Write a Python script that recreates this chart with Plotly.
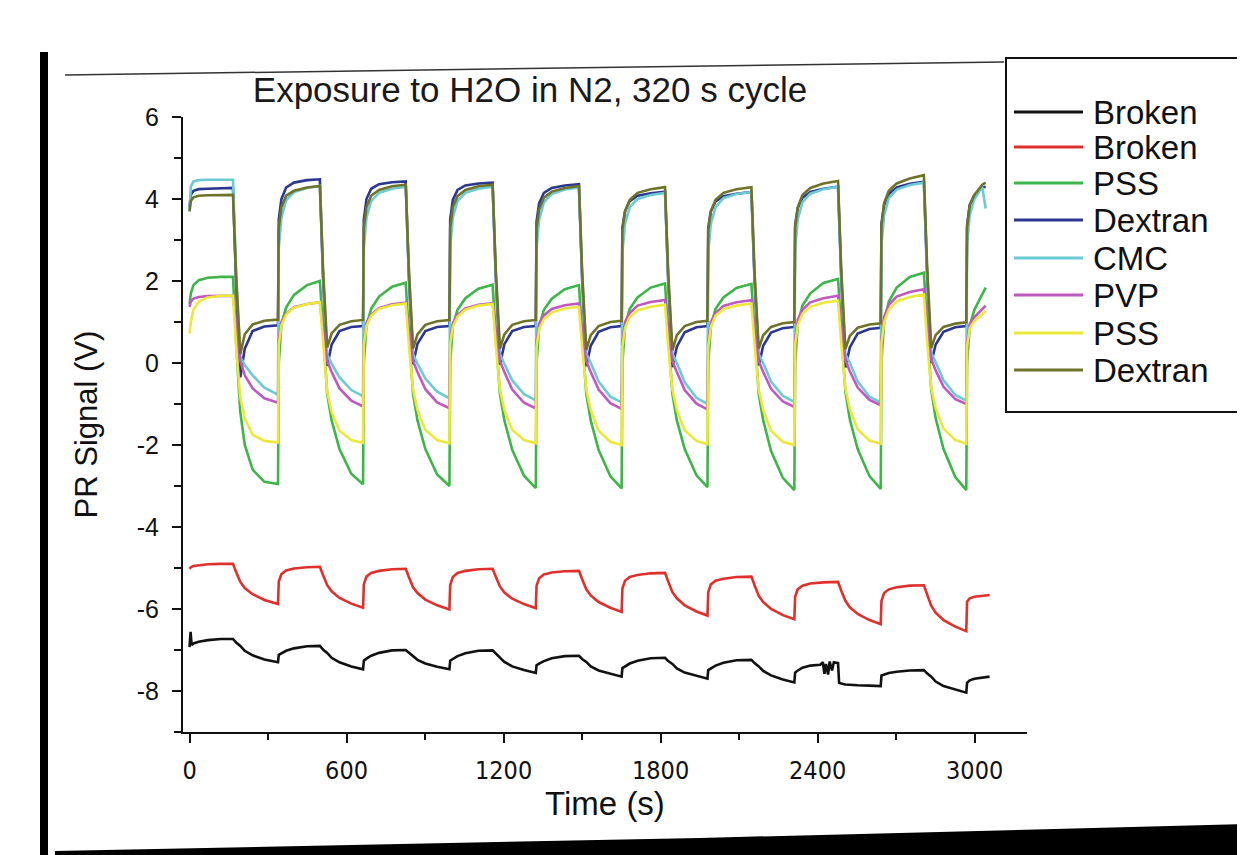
import plotly.graph_objects as go

# ---------------- data ----------------
# shared time samples (s) for the six coated sensors
time_s = [
    0, 5, 15, 35, 70, 120, 166,
    178, 194, 211, 241, 286, 338,
    341, 351, 369, 399, 449, 498,
    510, 526, 543, 573, 618, 663,
    666, 676, 694, 724, 774, 826,
    838, 854, 871, 901, 946, 993,
    996, 1006, 1024, 1054, 1104, 1158,
    1170, 1186, 1203, 1233, 1278, 1323,
    1326, 1336, 1354, 1384, 1434, 1488,
    1500, 1516, 1533, 1563, 1608, 1651,
    1654, 1664, 1682, 1712, 1762, 1817,
    1829, 1845, 1862, 1892, 1937, 1979,
    1982, 1992, 2010, 2040, 2090, 2147,
    2159, 2175, 2192, 2222, 2267, 2311,
    2314, 2324, 2342, 2372, 2422, 2478,
    2490, 2506, 2523, 2553, 2598, 2641,
    2644, 2654, 2672, 2702, 2752, 2806,
    2818, 2834, 2851, 2881, 2926, 2968,
    2971, 2981, 2999, 3029, 3042,
]

time_red = [
    0, 5, 15, 35, 70, 120, 166,
    178, 194, 211, 241, 286, 338,
    341, 351, 369, 399, 449, 498,
    510, 526, 543, 573, 618, 663,
    666, 676, 694, 724, 774, 826,
    838, 854, 871, 901, 946, 993,
    996, 1006, 1024, 1054, 1104, 1158,
    1170, 1186, 1203, 1233, 1278, 1323,
    1326, 1336, 1354, 1384, 1434, 1488,
    1500, 1516, 1533, 1563, 1608, 1651,
    1654, 1664, 1682, 1712, 1762, 1817,
    1829, 1845, 1862, 1892, 1937, 1979,
    1982, 1992, 2010, 2040, 2090, 2147,
    2159, 2175, 2192, 2222, 2267, 2311,
    2314, 2324, 2342, 2372, 2422, 2478,
    2490, 2506, 2523, 2553, 2598, 2641,
    2644, 2654, 2672, 2702, 2752, 2806,
    2818, 2834, 2851, 2881, 2926, 2968,
    2971, 2981, 2999, 3029, 3057,
]

time_black = [
    0, 4, 8, 15, 35, 70, 120, 166,
    178, 194, 211, 241, 286, 338,
    341, 351, 369, 399, 449, 498,
    510, 526, 543, 573, 618, 663,
    666, 676, 694, 724, 774, 826,
    838, 854, 871, 901, 946, 993,
    996, 1006, 1024, 1054, 1104, 1158,
    1170, 1186, 1203, 1233, 1278, 1323,
    1326, 1336, 1354, 1384, 1434, 1488,
    1500, 1516, 1533, 1563, 1608, 1651,
    1654, 1664, 1682, 1712, 1762, 1817,
    1829, 1845, 1862, 1892, 1937, 1979,
    1982, 1992, 2010, 2040, 2090, 2147,
    2159, 2175, 2192, 2222, 2267, 2311,
    2314, 2324, 2342, 2372, 2410, 2420, 2426, 2432, 2440, 2446, 2455, 2462, 2478,
    2482, 2490, 2506, 2523, 2553, 2598, 2641,
    2644, 2654, 2672, 2702, 2752, 2806,
    2818, 2834, 2851, 2881, 2926, 2968,
    2971, 2981, 2999, 3029, 3057,
]

broken_black = [
    -6.93, -6.56, -6.88, -6.84, -6.8, -6.76, -6.73, -6.73,
    -6.82, -6.9, -7.02, -7.13, -7.23, -7.3,
    -7.12, -7.08, -7.02, -6.96, -6.91, -6.9,
    -6.99, -7.07, -7.19, -7.3, -7.4, -7.47,
    -7.26, -7.21, -7.14, -7.07, -7.01, -7.0,
    -7.07, -7.14, -7.24, -7.33, -7.41, -7.47,
    -7.26, -7.22, -7.15, -7.08, -7.02, -7.01,
    -7.09, -7.18, -7.29, -7.4, -7.49, -7.56,
    -7.37, -7.33, -7.27, -7.2, -7.15, -7.14,
    -7.22, -7.29, -7.4, -7.5, -7.58, -7.65,
    -7.44, -7.4, -7.33, -7.26, -7.2, -7.19,
    -7.27, -7.34, -7.45, -7.55, -7.63, -7.7,
    -7.49, -7.45, -7.38, -7.31, -7.25, -7.24,
    -7.32, -7.4, -7.51, -7.62, -7.72, -7.79,
    -7.55, -7.5, -7.43, -7.38, -7.36, -7.3, -7.58, -7.34, -7.6, -7.28, -7.5, -7.3, -7.32,
    -7.8, -7.82, -7.84, -7.85, -7.86, -7.87, -7.88,
    -7.62, -7.6, -7.56, -7.53, -7.5, -7.49,
    -7.57, -7.65, -7.77, -7.88, -7.97, -8.04,
    -7.8, -7.74, -7.7, -7.67, -7.65,
]

broken_red = [
    -5.02, -4.98, -4.95, -4.93, -4.91, -4.9, -4.9,
    -5.1, -5.34, -5.49, -5.64, -5.78, -5.88,
    -5.33, -5.15, -5.06, -5.01, -4.98, -4.97,
    -5.17, -5.42, -5.57, -5.73, -5.87, -5.97,
    -5.4, -5.21, -5.12, -5.07, -5.03, -5.02,
    -5.22, -5.47, -5.61, -5.77, -5.91, -6.01,
    -5.42, -5.22, -5.12, -5.07, -5.03, -5.02,
    -5.21, -5.45, -5.6, -5.75, -5.88, -5.98,
    -5.43, -5.25, -5.16, -5.11, -5.08, -5.07,
    -5.27, -5.52, -5.67, -5.83, -5.97, -6.07,
    -5.5, -5.31, -5.22, -5.17, -5.13, -5.12,
    -5.33, -5.59, -5.74, -5.91, -6.06, -6.16,
    -5.59, -5.4, -5.31, -5.26, -5.22, -5.21,
    -5.42, -5.68, -5.83, -6.0, -6.15, -6.25,
    -5.7, -5.52, -5.43, -5.38, -5.35, -5.34,
    -5.55, -5.8, -5.96, -6.12, -6.27, -6.37,
    -5.8, -5.61, -5.52, -5.47, -5.43, -5.42,
    -5.64, -5.92, -6.09, -6.27, -6.43, -6.54,
    -5.82, -5.74, -5.7, -5.67, -5.66,
]

pss_green = [
    1.45, 1.7, 1.9, 2.02, 2.08, 2.1, 2.1,
    0.5, -1.2, -2.0, -2.6, -2.9, -2.95,
    0.0, 0.95, 1.35, 1.66, 1.9, 2.0,
    0.7, -0.75, -1.4, -2.1, -2.7, -2.96,
    0.0, 0.92, 1.32, 1.62, 1.86, 1.96,
    0.7, -0.75, -1.4, -2.1, -2.72, -3.0,
    0.0, 0.9, 1.3, 1.58, 1.81, 1.91,
    0.7, -0.75, -1.4, -2.12, -2.75, -3.05,
    0.0, 0.9, 1.3, 1.57, 1.8, 1.9,
    0.7, -0.75, -1.4, -2.12, -2.76, -3.06,
    0.0, 0.9, 1.32, 1.6, 1.84, 1.94,
    0.7, -0.75, -1.4, -2.1, -2.74, -3.03,
    0.0, 0.9, 1.32, 1.6, 1.83, 1.93,
    0.75, -0.75, -1.4, -2.15, -2.8, -3.1,
    0.0, 0.95, 1.4, 1.7, 1.95, 2.05,
    0.8, -0.7, -1.38, -2.1, -2.76, -3.07,
    0.05, 1.0, 1.5, 1.84, 2.1, 2.2,
    0.9, -0.65, -1.35, -2.1, -2.78, -3.1,
    0.0, 0.9, 1.3, 1.7, 1.84,
]

dextran_navy = [
    3.8, 4.1, 4.2, 4.24, 4.25, 4.26, 4.27,
    1.9, -0.35, 0.35, 0.78, 0.89, 0.92,
    3.5, 4.0, 4.28, 4.4, 4.46, 4.48,
    2.1, -0.07, 0.45, 0.78, 0.88, 0.9,
    3.5, 4.0, 4.25, 4.36, 4.41, 4.43,
    2.1, -0.03, 0.47, 0.78, 0.88, 0.9,
    3.5, 3.98, 4.22, 4.33, 4.38, 4.4,
    2.1, -0.04, 0.46, 0.78, 0.88, 0.9,
    3.45, 3.9, 4.15, 4.27, 4.33, 4.36,
    2.05, -0.08, 0.42, 0.76, 0.87, 0.9,
    3.3, 3.7, 3.95, 4.08, 4.14, 4.18,
    2.0, -0.1, 0.4, 0.75, 0.87, 0.9,
    3.3, 3.7, 3.94, 4.07, 4.13, 4.17,
    2.0, -0.06, 0.42, 0.74, 0.85, 0.88,
    3.35, 3.78, 4.03, 4.17, 4.25, 4.3,
    2.1, -0.11, 0.38, 0.72, 0.83, 0.86,
    3.4, 3.85, 4.12, 4.28, 4.37, 4.42,
    2.2, 0.0, 0.45, 0.76, 0.87, 0.9,
    3.35, 3.85, 4.1, 4.28, 4.3,
]

cmc_cyan = [
    3.7, 4.3, 4.43, 4.46, 4.47, 4.47, 4.47,
    2.2, 0.15, -0.05, -0.3, -0.6, -0.77,
    2.8, 3.55, 3.97, 4.17, 4.27, 4.32,
    2.2, 0.2, -0.02, -0.35, -0.66, -0.81,
    2.8, 3.55, 3.95, 4.15, 4.25, 4.3,
    2.2, 0.22, -0.02, -0.38, -0.7, -0.86,
    2.8, 3.55, 3.95, 4.15, 4.25, 4.3,
    2.2, 0.22, -0.02, -0.42, -0.76, -0.91,
    2.8, 3.5, 3.92, 4.12, 4.23, 4.28,
    2.15, 0.23, 0.0, -0.45, -0.82, -0.96,
    2.7, 3.4, 3.8, 4.0, 4.1, 4.15,
    2.1, 0.23, 0.0, -0.47, -0.85, -1.0,
    2.7, 3.4, 3.8, 4.02, 4.12, 4.17,
    2.1, 0.22, 0.0, -0.45, -0.8, -0.95,
    2.8, 3.5, 3.92, 4.13, 4.24, 4.3,
    2.2, 0.22, 0.0, -0.45, -0.82, -0.96,
    2.9, 3.6, 4.02, 4.23, 4.34, 4.4,
    2.25, 0.25, 0.02, -0.42, -0.78, -0.92,
    2.9, 3.6, 4.0, 4.3, 3.77,
]

pvp_magenta = [
    1.37, 1.5, 1.57, 1.61, 1.63, 1.64, 1.64,
    0.9, 0.05, -0.3, -0.62, -0.86, -0.97,
    0.55, 1.0, 1.2, 1.36, 1.44, 1.48,
    0.8, 0.05, -0.22, -0.62, -0.92, -1.06,
    0.5, 0.98, 1.18, 1.34, 1.43, 1.47,
    0.8, 0.05, -0.22, -0.64, -0.96, -1.1,
    0.5, 0.97, 1.17, 1.33, 1.42, 1.46,
    0.8, 0.05, -0.22, -0.65, -0.97, -1.11,
    0.5, 0.96, 1.16, 1.32, 1.41, 1.45,
    0.8, 0.05, -0.22, -0.65, -0.98, -1.12,
    0.5, 1.0, 1.22, 1.4, 1.49, 1.54,
    0.8, 0.05, -0.22, -0.66, -0.99, -1.13,
    0.5, 1.0, 1.22, 1.39, 1.48, 1.53,
    0.85, 0.05, -0.22, -0.63, -0.94, -1.07,
    0.55, 1.05, 1.3, 1.48, 1.58, 1.64,
    0.9, 0.08, -0.2, -0.6, -0.9, -1.03,
    0.6, 1.12, 1.42, 1.62, 1.73, 1.8,
    1.0, 0.1, -0.18, -0.58, -0.88, -1.0,
    0.5, 0.95, 1.12, 1.32, 1.4,
]

pss_yellow = [
    0.72, 1.0, 1.3, 1.5, 1.6, 1.64, 1.64,
    0.4, -0.85, -1.35, -1.75, -1.9, -1.94,
    0.45, 0.92, 1.18, 1.35, 1.44, 1.48,
    0.45, -0.7, -1.2, -1.65, -1.88, -1.95,
    0.45, 0.9, 1.15, 1.32, 1.41, 1.45,
    0.45, -0.65, -1.15, -1.63, -1.88, -1.96,
    0.45, 0.88, 1.13, 1.3, 1.4, 1.44,
    0.45, -0.65, -1.15, -1.63, -1.88, -1.96,
    0.4, 0.83, 1.07, 1.23, 1.33, 1.37,
    0.4, -0.65, -1.15, -1.65, -1.92, -2.0,
    0.4, 0.86, 1.12, 1.28, 1.37, 1.42,
    0.4, -0.65, -1.15, -1.64, -1.9, -1.98,
    0.4, 0.88, 1.15, 1.31, 1.4, 1.45,
    0.45, -0.65, -1.15, -1.65, -1.92, -2.0,
    0.45, 0.92, 1.2, 1.37, 1.47, 1.52,
    0.5, -0.62, -1.12, -1.62, -1.89, -1.97,
    0.5, 1.0, 1.3, 1.5, 1.61, 1.67,
    0.55, -0.6, -1.1, -1.6, -1.88, -1.97,
    0.4, 0.85, 1.02, 1.2, 1.27,
]

dextran_olive = [
    3.7, 3.95, 4.04, 4.08, 4.09, 4.1, 4.1,
    2.1, 0.22, 0.7, 0.94, 1.03, 1.06,
    3.3, 3.8, 4.08, 4.2, 4.28, 4.32,
    2.3, 0.38, 0.72, 0.93, 1.02, 1.05,
    3.3, 3.8, 4.08, 4.22, 4.31, 4.35,
    2.3, 0.35, 0.7, 0.93, 1.02, 1.05,
    3.3, 3.8, 4.07, 4.22, 4.31, 4.35,
    2.3, 0.35, 0.7, 0.93, 1.02, 1.05,
    3.3, 3.75, 4.03, 4.18, 4.27, 4.32,
    2.25, 0.32, 0.68, 0.9, 1.0, 1.03,
    3.25, 3.7, 3.98, 4.15, 4.24, 4.29,
    2.2, 0.31, 0.68, 0.9, 1.0, 1.03,
    3.25, 3.7, 3.98, 4.15, 4.24, 4.29,
    2.2, 0.35, 0.68, 0.88, 0.97, 1.0,
    3.3, 3.8, 4.1, 4.27, 4.38, 4.44,
    2.3, 0.34, 0.66, 0.86, 0.94, 0.97,
    3.35, 3.9, 4.2, 4.38, 4.5, 4.58,
    2.4, 0.37, 0.68, 0.88, 0.96, 0.99,
    3.3, 3.85, 4.1, 4.35, 4.4,
]

legend_labels = ["Broken", "Broken", "PSS", "Dextran", "CMC", "PVP", "PSS", "Dextran"]
line_colors = ["#111111", "#e0302c", "#3eb548", "#2b3791", "#6ccad2", "#c058c2", "#ebe83a", "#6f7329"]

x_ticks = [0, 600, 1200, 1800, 2400, 3000]
x_minor = [300, 900, 1500, 2100, 2700]
y_ticks = [-8, -6, -4, -2, 0, 2, 4, 6]
y_tick_text = ["-8", "-6", "-4", "-2", "0", "2", "4", "6"]
y_minor = [-9, -7, -5, -3, -1, 1, 3, 5]

series = [
    (time_black, broken_black),
    (time_red, broken_red),
    (time_s, pss_green),
    (time_s, dextran_navy),
    (time_s, cmc_cyan),
    (time_s, pvp_magenta),
    (time_s, pss_yellow),
    (time_s, dextran_olive),
]
for t, v in series:
    assert len(t) == len(v), (len(t), len(v))

# ---------------- layout geometry ----------------
# the page body has an 8 px margin, so the figure is drawn 8 px right/down
OFF = 8
W, H = 1245 - OFF, 855 - OFF
PLOT_X0, PLOT_X1 = 183, 1027   # plot area in window pixels
PLOT_Y0, PLOT_Y1 = 117, 732
ML = PLOT_X0 - OFF
MT = PLOT_Y0 - OFF
MR = W - (PLOT_X1 - OFF)
MB = H - (PLOT_Y1 - OFF)
PW = PLOT_X1 - PLOT_X0
PH = PLOT_Y1 - PLOT_Y0


def px(x):
    return (x - PLOT_X0) / PW


def py(y):
    return (PLOT_Y1 - y) / PH


FONT = "Liberation Sans, Arial, Helvetica, sans-serif"

fig = go.Figure()
for (t, v), name, color in zip(series, legend_labels, line_colors):
    fig.add_trace(go.Scatter(
        x=t, y=v, mode="lines", name=name,
        line=dict(color=color, width=2.6),
        showlegend=False,
    ))

shapes = []
annotations = []

# legend box, samples and labels
legend_y = [112, 147, 183, 220, 258, 295, 333, 370]
shapes.append(dict(type="rect", xref="paper", yref="paper",
                   x0=px(1006), x1=px(1240), y0=py(58), y1=py(412),
                   line=dict(color="#111111", width=2), fillcolor="rgba(0,0,0,0)"))
for yy, lab, col in zip(legend_y, legend_labels, line_colors):
    shapes.append(dict(type="line", xref="paper", yref="paper",
                       x0=px(1014), x1=px(1083), y0=py(yy), y1=py(yy),
                       line=dict(color=col, width=3)))
    annotations.append(dict(text=lab, xref="paper", yref="paper",
                            x=px(1091), y=py(yy), xanchor="left", yanchor="middle",
                            showarrow=False,
                            font=dict(family=FONT, size=33, color="#111111")))

# scan edges of the reproduced page
shapes.append(dict(type="rect", xref="paper", yref="paper",
                   x0=px(40), x1=px(48), y0=py(52), y1=py(860),
                   fillcolor="#000000", line=dict(width=0)))
shapes.append(dict(type="line", xref="paper", yref="paper",
                   x0=px(65), x1=px(1004), y0=py(75), y1=py(62),
                   line=dict(color="#333333", width=1.5)))
shapes.append(dict(type="path", xref="paper", yref="paper",
                   path="M {a},{b} L {c},{d} L {e},{f} L {g},{h} L {i},{j} Z".format(
                       a=px(55), b=py(860), c=px(55), d=py(851), e=px(700), f=py(838),
                       g=px(1250), h=py(824), i=px(1250), j=py(860)),
                   fillcolor="#000000", line=dict(width=0)))

fig.update_layout(
    width=W, height=H,
    margin=dict(l=ML, r=MR, t=MT, b=MB, pad=0, autoexpand=False),
    paper_bgcolor="white", plot_bgcolor="white",
    font=dict(family=FONT, color="#111111"),
    title=dict(text="Exposure to H2O in N2, 320 s cycle",
               xref="container", yref="container",
               x=(530 - OFF) / W, y=1 - (90 - OFF) / H, xanchor="center", yanchor="middle",
               automargin=False,
               font=dict(family=FONT, size=35, color="#1a1a1a")),
    xaxis=dict(
        range=[-25, 3200], tickvals=x_ticks, ticktext=[str(v) for v in x_ticks],
        ticks="outside", ticklen=9, tickwidth=2, tickcolor="#111111",
        showline=True, linecolor="#111111", linewidth=2,
        showgrid=False, zeroline=False, automargin=False,
        minor=dict(tickvals=x_minor, ticks="outside", ticklen=6, tickwidth=2, tickcolor="#111111"),
        tickfont=dict(family="DejaVu Sans Condensed, " + FONT, size=25, color="#111111"),
        ticklabelstandoff=6,
        title=dict(text="Time (s)", font=dict(family=FONT, size=33, color="#111111"), standoff=8),
    ),
    yaxis=dict(
        range=[-9, 6], tickvals=y_ticks, ticktext=y_tick_text,
        ticks="outside", ticklen=9, tickwidth=2, tickcolor="#111111",
        showline=True, linecolor="#111111", linewidth=2,
        showgrid=False, zeroline=False, automargin=False,
        minor=dict(tickvals=y_minor, ticks="outside", ticklen=7, tickwidth=2, tickcolor="#111111"),
        tickfont=dict(family=FONT, size=25, color="#111111"),
        ticklabelstandoff=8,
        title=dict(text="PR Signal (V)", font=dict(family=FONT, size=31, color="#111111"), standoff=30),
    ),
    shapes=shapes,
    annotations=annotations,
    showlegend=False,
)

fig.write_html("out.html")
